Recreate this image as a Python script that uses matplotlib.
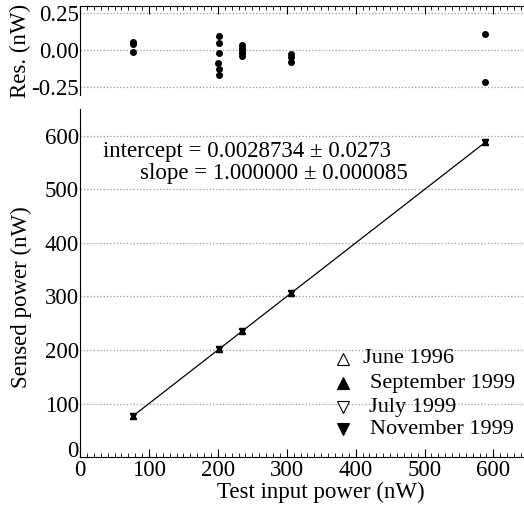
import numpy as np
import matplotlib
matplotlib.use("Agg")
import matplotlib.pyplot as plt
from matplotlib.ticker import MultipleLocator, FixedLocator

plt.rcParams['font.family'] = ['Liberation Serif', 'DejaVu Serif']

# test input power points (nW)
x_pts = [76, 202, 235, 306, 588]
series_names = ['June 1996', 'September 1999', 'July 1999', 'November 1999']
series_markers = ['^', '^', 'v', 'v']
series_filled = [False, True, False, True]

# residuals (nW)
res_x = [76, 77, 76, 202, 202, 202, 200, 202, 202,
         235, 235, 235, 235, 235, 306, 306, 306, 588, 588]
res_y = [0.058, 0.042, -0.011, 0.096, 0.047, -0.016, -0.083, -0.123, -0.164,
         0.035, 0.015, -0.005, -0.02, -0.04, -0.027, -0.047, -0.08, 0.109, -0.215]

x_major = [0, 100, 200, 300, 400, 500, 600]
intercept = 0.0028734
slope = 1.000000

FS = 16.5

# axes run a bit past the right edge of the picture (0..700 nW)
fig = plt.figure(figsize=(5.24, 5.07), dpi=100)
ax_r = fig.add_axes([0.153, 0.813, 0.92, 0.175])
ax = fig.add_axes([0.153, 0.0986, 0.92, 0.686])

# ---- residual panel ----
ax_r.scatter(res_x, res_y, s=16, color='black', zorder=3)
ax_r.set_xlim(0, 700)
ax_r.set_ylim(-0.3, 0.3)
for v in [0.25, 0.0, -0.25]:
    ax_r.axhline(v, color='#999999', linestyle=':', linewidth=0.9, zorder=1)
ax_r.set_yticks([0.25, 0.0, -0.25])
ax_r.set_yticklabels(['0.25', '0.00', '-0.25'])
ax_r.spines['right'].set_visible(False)
ax_r.spines['bottom'].set_visible(False)
ax_r.xaxis.set_ticks_position('top')
ax_r.xaxis.set_major_locator(FixedLocator(x_major))
ax_r.xaxis.set_minor_locator(MultipleLocator(10))
ax_r.tick_params(axis='x', which='major', direction='in', length=6, labeltop=False)
ax_r.tick_params(axis='x', which='minor', direction='in', length=3)
ax_r.tick_params(axis='y', length=0, pad=1, labelsize=FS)
ax_r.set_ylabel('Res. (nW)', fontsize=FS, labelpad=0)

# ---- main panel ----
xf = np.array([x_pts[0], x_pts[-1]])
ax.plot(xf, intercept + slope * xf, color='black', linewidth=0.9, zorder=2)
for name, mk, filled in zip(series_names, series_markers, series_filled):
    ys = [intercept + slope * v for v in x_pts]
    ax.plot(x_pts, ys, linestyle='none', marker=mk, markersize=4.5,
            markerfacecolor='black' if filled else 'white',
            markeredgecolor='black', markeredgewidth=0.9, zorder=3)

ax.set_xlim(0, 700)
ax.set_ylim(0, 650)
for v in range(100, 700, 100):
    ax.axhline(v, color='#999999', linestyle=':', linewidth=0.9, zorder=1)
ax.set_yticks(range(0, 700, 100))
ax.spines['right'].set_visible(False)
ax.spines['top'].set_visible(False)
ax.xaxis.set_major_locator(FixedLocator(x_major))
ax.xaxis.set_minor_locator(MultipleLocator(10))
ax.tick_params(axis='x', which='major', direction='in', length=6, labelsize=FS, pad=2)
ax.tick_params(axis='x', which='minor', direction='in', length=3)
ax.tick_params(axis='y', length=0, pad=1, labelsize=FS)
ax.get_yticklabels()[0].set_va('baseline')
ax.set_xlabel('Test input power (nW)', fontsize=FS, labelpad=1)
ax.set_ylabel('Sensed power (nW)', fontsize=FS)
ax.yaxis.set_label_coords(-0.10, 0.46)

ax.text(33, 571, 'intercept = 0.0028734 ± 0.0273', ha='left', va='center', fontsize=FS)
ax.text(87, 530, 'slope = 1.000000 ± 0.000085', ha='left', va='center', fontsize=FS)

# legend drawn by hand
leg_y = [184, 138, 93, 52]
leg_tx = [411, 421, 420, 421]
for name, mk, filled, ly, tx in zip(series_names, series_markers, series_filled, leg_y, leg_tx):
    ax.plot([382], [ly], linestyle='none', marker=mk, markersize=9,
            markerfacecolor='black' if filled else 'white',
            markeredgecolor='black', markeredgewidth=0.8, clip_on=False)
    ax.text(tx, ly, name, ha='left', va='center', fontsize=16)

fig.savefig('out.png', dpi=100)
